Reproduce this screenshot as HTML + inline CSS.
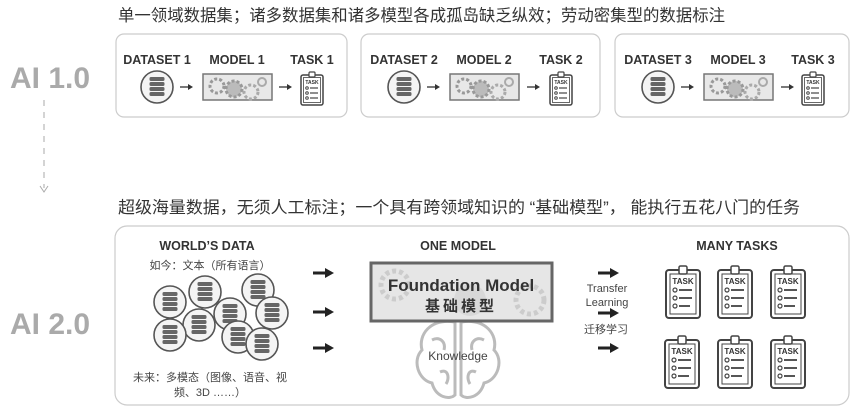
<!DOCTYPE html>
<html><head><meta charset="utf-8"><style>
body{margin:0;background:#fff;}
svg{display:block;font-family:"Liberation Sans","Noto Sans CJK SC",sans-serif;}
</style></head><body>
<svg width="854" height="408" viewBox="0 0 854 408" xmlns="http://www.w3.org/2000/svg">
<defs>
<g id="db">
 <circle cx="0" cy="0" r="16" fill="#f4f4f4" stroke="#555" stroke-width="1.6"/>
 <rect x="-7.5" y="-10" width="15" height="4" rx="1.5" fill="#666"/>
 <rect x="-7.5" y="-5" width="15" height="4" rx="1.5" fill="#666"/>
 <rect x="-7.5" y="0" width="15" height="4" rx="1.5" fill="#666"/>
 <rect x="-7.5" y="5" width="15" height="4" rx="1.5" fill="#666"/>
</g>
<g id="task">
 <rect x="0" y="3" width="22" height="30" rx="2" fill="#fff" stroke="#444" stroke-width="1.5"/>
 <rect x="2.5" y="5.5" width="17" height="25" fill="none" stroke="#444" stroke-width="0.8"/>
 <rect x="8" y="0" width="6" height="5" rx="1" fill="#fff" stroke="#444" stroke-width="1.2"/>
 <text x="11" y="12" font-size="5" font-weight="bold" text-anchor="middle" fill="#333">TASK</text>
 <circle cx="6" cy="16" r="1.3" fill="none" stroke="#444"/><line x1="9" y1="16" x2="17" y2="16" stroke="#444" stroke-width="1.2"/>
 <circle cx="6" cy="21" r="1.3" fill="none" stroke="#444"/><line x1="9" y1="21" x2="17" y2="21" stroke="#444" stroke-width="1.2"/>
 <circle cx="6" cy="26" r="1.3" fill="none" stroke="#444"/><line x1="9" y1="26" x2="17" y2="26" stroke="#444" stroke-width="1.2"/>
</g>
<g id="bigtask">
 <rect x="0" y="4" width="34" height="48" rx="3" fill="#fff" stroke="#444" stroke-width="2"/>
 <rect x="4" y="8" width="26" height="40" fill="none" stroke="#444" stroke-width="1"/>
 <rect x="13" y="0" width="8" height="8" rx="1.5" fill="#fff" stroke="#444" stroke-width="1.5"/>
 <text x="17" y="18" font-size="8" font-weight="bold" text-anchor="middle" fill="#333">TASK</text>
 <circle cx="9" cy="24" r="2" fill="none" stroke="#444" stroke-width="1.2"/><line x1="13" y1="24" x2="26" y2="24" stroke="#444" stroke-width="1.8"/>
 <circle cx="9" cy="32" r="2" fill="none" stroke="#444" stroke-width="1.2"/><line x1="13" y1="32" x2="26" y2="32" stroke="#444" stroke-width="1.8"/>
 <circle cx="9" cy="40" r="2" fill="none" stroke="#444" stroke-width="1.2"/><line x1="13" y1="40" x2="24" y2="40" stroke="#444" stroke-width="1.8"/>
</g>
<g id="model">
 <rect x="0" y="0" width="69" height="26" fill="#e8e8e8" stroke="#777" stroke-width="1.5"/>
 <circle cx="14" cy="12" r="7" fill="none" stroke="#999" stroke-width="3" stroke-dasharray="3 2"/>
 <circle cx="31" cy="15" r="8" fill="#bbb" stroke="#999" stroke-width="3" stroke-dasharray="3 2"/>
 <circle cx="48" cy="18" r="7" fill="none" stroke="#aaa" stroke-width="3" stroke-dasharray="3 2"/>
 <circle cx="59" cy="8" r="4" fill="none" stroke="#aaa" stroke-width="2"/>
</g>
<g id="sar"><line x1="0" y1="0" x2="10" y2="0" stroke="#333" stroke-width="1.3"/><path d="M8,-3 L13,0 L8,3z" fill="#333"/></g>
<g id="bar"><line x1="0" y1="0" x2="14" y2="0" stroke="#222" stroke-width="3"/><path d="M12,-5 L21,0 L12,5z" fill="#222"/></g>
</defs>

<text x="118" y="21" font-size="16.5" fill="#333" textLength="607" lengthAdjust="spacingAndGlyphs">单一领域数据集；诸多数据集和诸多模型各成孤岛缺乏纵效；劳动密集型的数据标注</text>
<text x="10" y="88" font-size="30" font-weight="bold" fill="#aaa">AI 1.0</text>
<line x1="44" y1="100" x2="44" y2="188" stroke="#aaa" stroke-width="1" stroke-dasharray="6 6"/>
<path d="M40,186 L44,192 L48,186" fill="none" stroke="#aaa"/>
<text x="10" y="334" font-size="30" font-weight="bold" fill="#aaa">AI 2.0</text>

<g transform="translate(116,34)">
 <rect x="0" y="0" width="231" height="83" rx="8" fill="#fff" stroke="#ccc" stroke-width="1.2"/>
 <text x="41" y="30" font-size="12.5" font-weight="bold" text-anchor="middle" fill="#333">DATASET 1</text>
 <text x="121" y="30" font-size="12.5" font-weight="bold" text-anchor="middle" fill="#333">MODEL 1</text>
 <text x="196" y="30" font-size="12.5" font-weight="bold" text-anchor="middle" fill="#333">TASK 1</text>
 <use href="#db" x="41" y="53"/><use href="#sar" x="64" y="53"/>
 <use href="#model" x="87" y="40"/><use href="#sar" x="163" y="53"/>
 <use href="#task" x="185" y="38"/>
</g>
<g transform="translate(361,34)">
 <rect x="0" y="0" width="239" height="83" rx="8" fill="#fff" stroke="#ccc" stroke-width="1.2"/>
 <text x="43" y="30" font-size="12.5" font-weight="bold" text-anchor="middle" fill="#333">DATASET 2</text>
 <text x="123" y="30" font-size="12.5" font-weight="bold" text-anchor="middle" fill="#333">MODEL 2</text>
 <text x="200" y="30" font-size="12.5" font-weight="bold" text-anchor="middle" fill="#333">TASK 2</text>
 <use href="#db" x="43" y="53"/><use href="#sar" x="66" y="53"/>
 <use href="#model" x="89" y="40"/><use href="#sar" x="166" y="53"/>
 <use href="#task" x="189" y="38"/>
</g>
<g transform="translate(615,34)">
 <rect x="0" y="0" width="234" height="83" rx="8" fill="#fff" stroke="#ccc" stroke-width="1.2"/>
 <text x="43" y="30" font-size="12.5" font-weight="bold" text-anchor="middle" fill="#333">DATASET 3</text>
 <text x="123" y="30" font-size="12.5" font-weight="bold" text-anchor="middle" fill="#333">MODEL 3</text>
 <text x="198" y="30" font-size="12.5" font-weight="bold" text-anchor="middle" fill="#333">TASK 3</text>
 <use href="#db" x="43" y="53"/><use href="#sar" x="66" y="53"/>
 <use href="#model" x="89" y="40"/><use href="#sar" x="166" y="53"/>
 <use href="#task" x="187" y="38"/>
</g>

<text x="118" y="213" font-size="16.5" fill="#333" textLength="682" lengthAdjust="spacingAndGlyphs">超级海量数据，无须人工标注；一个具有跨领域知识的 “基础模型”， 能执行五花八门的任务</text>

<rect x="115" y="226" width="734" height="179" rx="12" fill="#fff" stroke="#ccc" stroke-width="1.2"/>
<text x="207" y="250" font-size="12.5" font-weight="bold" text-anchor="middle" fill="#333">WORLD’S DATA</text>
<text x="210" y="269" font-size="11" text-anchor="middle" fill="#444">如今：文本（所有语言）</text>
<use href="#db" x="170" y="302"/>
<use href="#db" x="205" y="292"/>
<use href="#db" x="258" y="290"/>
<use href="#db" x="272" y="313"/>
<use href="#db" x="230" y="314"/>
<use href="#db" x="199" y="325"/>
<use href="#db" x="170" y="335"/>
<use href="#db" x="238" y="337"/>
<use href="#db" x="262" y="344"/>
<text x="210" y="381" font-size="11" text-anchor="middle" fill="#444">未来：多模态（图像、语音、视</text>
<text x="210" y="396" font-size="11" text-anchor="middle" fill="#444">频、3D ……）</text>
<use href="#bar" x="313" y="273"/><use href="#bar" x="313" y="312"/><use href="#bar" x="313" y="348"/>

<text x="458" y="250" font-size="12.5" font-weight="bold" text-anchor="middle" fill="#333">ONE MODEL</text>
<g fill="none" stroke="#bbb" stroke-width="3">
 <path d="M455,322 C430,318 418,335 422,350 C412,360 418,380 432,383 C436,398 450,400 455,395 Z"/>
 <path d="M461,322 C486,318 498,335 494,350 C504,360 498,380 484,383 C480,398 466,400 461,395 Z"/>
 <path d="M432,340 C440,336 446,342 444,350 M440,372 C448,368 450,378 446,384 M484,340 C476,336 470,342 472,350 M476,372 C468,368 466,378 470,384"/>
</g>
<text x="458" y="360" font-size="12" text-anchor="middle" fill="#444">Knowledge</text>
<rect x="371" y="263" width="181" height="58" fill="#e6e6e6" stroke="#666" stroke-width="3"/>
<circle cx="395" cy="285" r="14" fill="none" stroke="#ccc" stroke-width="5" stroke-dasharray="4 3"/>
<circle cx="530" cy="300" r="14" fill="none" stroke="#ccc" stroke-width="5" stroke-dasharray="4 3"/>
<circle cx="470" cy="300" r="16" fill="#d8d8d8"/>
<text x="461" y="291" font-size="17" font-weight="bold" text-anchor="middle" fill="#333">Foundation Model</text>
<text x="461" y="311" font-size="15" font-weight="bold" text-anchor="middle" fill="#333" letter-spacing="3">基础模型</text>

<use href="#bar" x="598" y="273"/>
<text x="607" y="292" font-size="11" text-anchor="middle" fill="#444">Transfer</text>
<text x="607" y="306" font-size="11" text-anchor="middle" fill="#444">Learning</text>
<use href="#bar" x="598" y="313"/>
<text x="606" y="333" font-size="11" text-anchor="middle" fill="#444">迁移学习</text>
<use href="#bar" x="598" y="348"/>

<text x="737" y="250" font-size="12.5" font-weight="bold" text-anchor="middle" fill="#333">MANY TASKS</text>
<use href="#bigtask" x="666" y="266"/><use href="#bigtask" x="718" y="266"/><use href="#bigtask" x="771" y="266"/>
<use href="#bigtask" x="665" y="336"/><use href="#bigtask" x="718" y="336"/><use href="#bigtask" x="771" y="336"/>
</svg>
</body></html>
